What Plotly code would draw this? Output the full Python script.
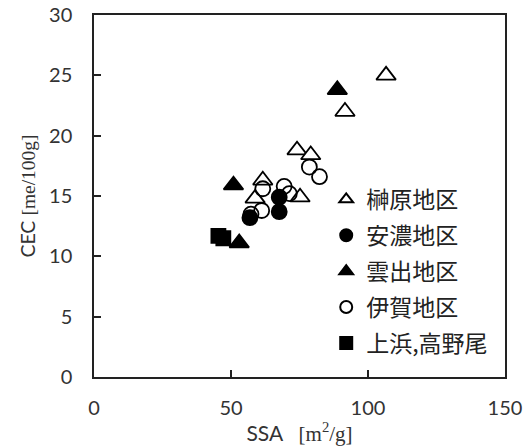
import plotly.graph_objects as go

# 榊原地区 (open triangles)
sakakibara_x = [106.6, 91.6, 74.1, 79.1, 61.6, 75.2, 58.8]
sakakibara_y = [25.0, 22.0, 18.8, 18.4, 16.3, 14.9, 14.8]
# 安濃地区 (filled circles)
ano_x = [67.6, 67.6, 56.9]
ano_y = [14.9, 13.7, 13.2]
# 雲出地区 (filled triangles)
kumozu_x = [88.8, 50.9, 53.0]
kumozu_y = [23.8, 15.9, 11.1]
# 伊賀地区 (open circles)
iga_x = [78.6, 82.3, 69.4, 71.3, 61.6, 61.2, 57.3]
iga_y = [17.4, 16.6, 15.8, 15.2, 15.6, 13.8, 13.5]
# 上浜,高野尾 (filled squares)
kamihama_x = [45.4, 47.2]
kamihama_y = [11.7, 11.5]

x_ticks = [0, 50, 100, 150]
y_ticks = [0, 5, 10, 15, 20, 25, 30]

fig = go.Figure()

def add(name, xs, ys, symbol, fill, size, group):
    fig.add_trace(go.Scatter(
        x=xs, y=ys, mode="markers", name=name, legendgroup=group,
        marker=dict(symbol=symbol, size=size, color=fill,
                    line=dict(color="black", width=1.8)),
    ))

add("榊原地区", sakakibara_x, sakakibara_y, "triangle-up", "white", 17, "a")
add("安濃地区", ano_x, ano_y, "circle", "black", 15, "b")
add("雲出地区", kumozu_x, kumozu_y, "triangle-up", "black", 17, "c")
add("伊賀地区", iga_x, iga_y, "circle", "rgba(255,255,255,0)", 15, "d")
add("上浜,高野尾", kamihama_x, kamihama_y, "square", "black", 14, "e")

axis_common = dict(
    showline=True, linecolor="#222", linewidth=1.5, mirror=True,
    ticks="inside", ticklen=7, tickcolor="#222", tickwidth=1.5,
    showgrid=False, zeroline=False, automargin=False,
    tickfont=dict(family="Lato", size=20, color="#333"),
)

serif = "font-family:'Liberation Serif'"
x_title = f"SSA &nbsp; <span style=\"{serif}\">[m<sup>2</sup>/g]</span>"
y_title = f"CEC <span style=\"{serif}\">[me/100g]</span>"

fig.update_layout(
    width=529, height=447,
    margin=dict(l=94, r=24, t=15, b=70),
    paper_bgcolor="white", plot_bgcolor="white",
    xaxis=dict(range=[0, 150], tickvals=x_ticks, ticklabelstandoff=12,
               title=dict(text=x_title, font=dict(family="Lato", size=21, color="#333"), standoff=8),
               **axis_common),
    yaxis=dict(range=[0, 30], tickvals=y_ticks, ticklabelstandoff=16,
               title=dict(text=y_title, font=dict(family="Lato", size=19.5, color="#333"), standoff=8),
               **axis_common),
    showlegend=True,
    legend=dict(x=0.565, y=0.55, xanchor="left", yanchor="top",
                bgcolor="rgba(0,0,0,0)", font=dict(family="Noto Sans CJK JP", size=23, color="#222"),
                traceorder="grouped", tracegroupgap=3, itemsizing="constant", itemwidth=30),
)

fig.write_html("out.html", config={"displayModeBar": False},
               post_script="document.body.style.margin='0px';document.body.style.overflow='hidden';")
